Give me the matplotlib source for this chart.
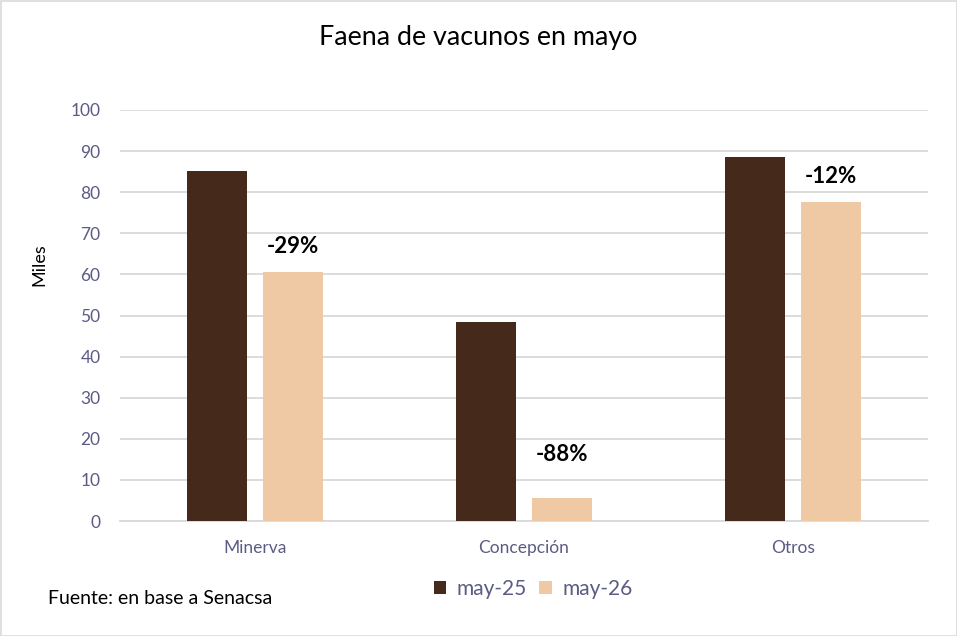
import matplotlib.pyplot as plt
import numpy as np
from matplotlib.patches import Rectangle

plt.rcParams['font.family'] = ['Lato', 'DejaVu Sans']

categories = ['Minerva', 'Concepción', 'Otros']
may25 = [85.2, 48.4, 88.6]
may26 = [60.6, 5.6, 77.6]
labels = ['-29%', '-88%', '-12%']
series_names = ['may-25', 'may-26']
label_offsets = [6.1, 10.7, 6.2]

dark = '#45291a'
light = '#eec9a3'
tickc = '#5b5b85'

fig = plt.figure(figsize=(9.57, 6.36), dpi=100)
ax = fig.add_axes([120/957, 1-521/636, 808/957, 411/636])

x = np.arange(len(categories))
w = 0.223
off = 0.141
b1 = ax.bar(x - off, may25, w, color=dark, label=series_names[0], zorder=3)
b2 = ax.bar(x + off, may26, w, color=light, label=series_names[1], zorder=3)

for xi, v, t, o in zip(x, may26, labels, label_offsets):
    ax.text(xi + off, v + o, t, ha='center', va='center', fontsize=16,
            fontweight='bold', color='black')

ax.set_xlim(-0.5, 2.5)
ax.set_ylim(0, 100)
ax.set_yticks(range(0, 101, 10))
ax.set_xticks(x)
ax.set_xticklabels(categories)
ax.grid(axis='y', color='#d9d9d9', lw=1.3, zorder=0)
ax.set_axisbelow(True)
for s in ['top', 'right', 'left']:
    ax.spines[s].set_visible(False)
ax.spines['bottom'].set_color('#d9d9d9')
ax.spines['bottom'].set_linewidth(1.3)
ax.tick_params(axis='both', length=0, colors=tickc, labelsize=12.5)
ax.tick_params(axis='y', pad=14)
ax.tick_params(axis='x', pad=14)
ax.set_ylabel('Miles', fontsize=13, color='black')
ax.yaxis.set_label_coords(-0.09, 0.623)

fig.text(478/957, 1-37/636, 'Faena de vacunos en mayo', ha='center', va='center',
         fontsize=19.4, color='black')
fig.text(48/957, 1-599/636, 'Fuente: en base a Senacsa', ha='left', va='center',
         fontsize=14, color='black')

leg = fig.legend(handles=[b1, b2], loc='center', bbox_to_anchor=(533/957, 1-589/636),
                 ncol=2, frameon=False, fontsize=15, handlelength=0.6,
                 handleheight=0.6, handletextpad=0.5, columnspacing=0.6)
for t in leg.get_texts():
    t.set_color(tickc)

fig.patches.append(Rectangle((0.5/957, 0.5/636), 1-1/957, 1-1/636, transform=fig.transFigure,
                             fill=False, edgecolor='#d9d9d9', lw=1.2))

fig.savefig('out.png', dpi=100)
